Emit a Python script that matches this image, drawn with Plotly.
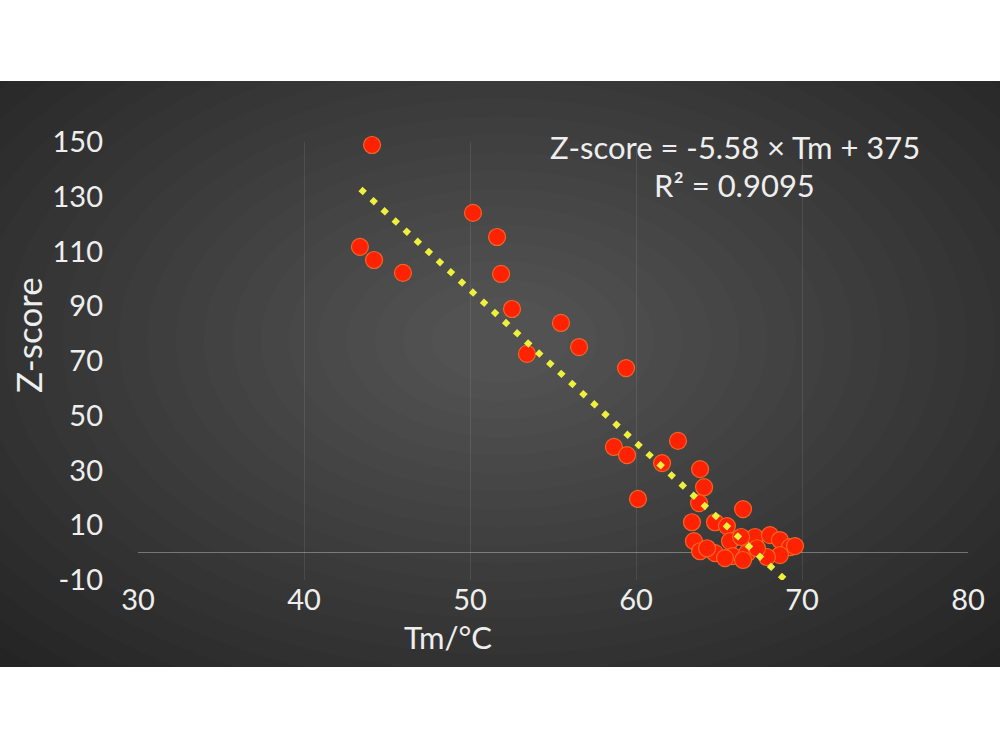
import plotly.graph_objects as go

# ---- data ----
tm = [44.10, 43.37, 44.22, 45.96, 50.18, 51.63, 51.87, 52.53, 53.43, 55.48,
      56.57, 59.40, 58.67, 59.46, 60.12, 61.57, 62.53, 63.86, 64.10, 63.80,
      66.45, 63.37, 64.76, 65.48, 63.49, 63.86, 64.76, 65.66, 65.84, 66.69,
      67.17, 68.07, 68.67, 69.28, 68.67, 67.89, 67.29, 66.45, 65.36, 64.28,
      66.33, 69.58]
zscore = [148.9, 111.7, 106.9, 102.2, 124.1, 115.3, 101.8, 89.0, 72.6, 83.9,
          75.1, 67.4, 38.6, 35.6, 19.6, 32.7, 40.8, 30.5, 23.9, 18.1,
          15.9, 11.1, 11.1, 9.7, 4.2, 0.5, -0.2, 4.2, -1.3, -0.2,
          5.7, 6.4, 4.6, 2.0, -0.9, -1.6, 1.6, -2.7, -2.0, 1.6,
          5.7, 2.4]

slope, intercept = -5.58, 375
fit_x = [43.4, 69.0]
fit_y = [slope * v + intercept for v in fit_x]

x_ticks = [30, 40, 50, 60, 70, 80]
x_tick_labels = ["30", "40", "50", "60", "70", "80"]
y_ticks = [-10, 10, 30, 50, 70, 90, 110, 130, 150]
y_tick_labels = ["-10", "10", "30", "50", "70", "90", "110", "130", "150"]

eq_text = "Z-score = -5.58 × Tm + 375"
r2_text = "R² = 0.9095"

FONT = "Lato"
TXT = "#eeeeee"

fig = go.Figure()
fig.add_trace(go.Scatter(
    x=tm, y=zscore, mode="markers", cliponaxis=False,
    marker=dict(size=17, color="#ff2200",
                line=dict(color="rgba(255,110,40,0.85)", width=1.2)),
    showlegend=False, hoverinfo="x+y"))
fig.add_trace(go.Scatter(
    x=fit_x, y=fit_y, mode="lines", cliponaxis=False,
    line=dict(color="#eef03c", width=6, dash="6px,9px"),
    showlegend=False, hoverinfo="skip"))

# plot area geometry (pixels)
L, R, T, B = 138, 32, 142, 170
PW, PH = 1000 - L - R, 750 - T - B


def px(xp):
    return (xp - L) / PW


def py(yp):
    return (750 - B - yp) / PH


shapes = [dict(type="rect", xref="paper", yref="paper", layer="below",
               x0=px(0), x1=px(1000), y0=py(667), y1=py(81),
               fillcolor="#1e1e1e", line=dict(width=0))]
# smooth radial lightening toward the centre
cx, cy = 500, 340
N = 26
for i in range(N):
    f = 1 - i / N
    rx = 40 + 740 * f
    ry = 25 + 470 * f
    shapes.append(dict(type="circle", xref="paper", yref="paper", layer="below",
                       x0=px(cx - rx), x1=px(cx + rx),
                       y0=py(cy + ry), y1=py(cy - ry),
                       fillcolor="rgba(255,255,255,0.0105)", line=dict(width=0)))
# mask outside the panel
shapes.append(dict(type="rect", xref="paper", yref="paper", layer="below",
                   x0=px(-300), x1=px(1300), y0=py(81), y1=py(-300),
                   fillcolor="white", line=dict(width=0)))
shapes.append(dict(type="rect", xref="paper", yref="paper", layer="below",
                   x0=px(-300), x1=px(1300), y0=py(1050), y1=py(667),
                   fillcolor="white", line=dict(width=0)))
shapes.append(dict(type="rect", xref="paper", yref="paper", layer="below",
                   x0=px(-300), x1=px(0), y0=py(1050), y1=py(-300),
                   fillcolor="white", line=dict(width=0)))
shapes.append(dict(type="rect", xref="paper", yref="paper", layer="below",
                   x0=px(1000), x1=px(1300), y0=py(1050), y1=py(-300),
                   fillcolor="white", line=dict(width=0)))

fig.update_layout(
    width=1000, height=750,
    margin=dict(l=L, r=R, t=T, b=B),
    paper_bgcolor="white",
    plot_bgcolor="rgba(0,0,0,0)",
    shapes=shapes,
    font=dict(family=FONT, color=TXT),
    xaxis=dict(range=[30, 80], tickvals=x_ticks, ticktext=x_tick_labels,
               showgrid=True, gridcolor="rgba(255,255,255,0.09)", gridwidth=1,
               zeroline=False, showline=False, ticks="",
               tickfont=dict(family=FONT, size=29, color=TXT),
               ticklabelstandoff=0),
    yaxis=dict(range=[-10, 150], tickvals=y_ticks, ticktext=y_tick_labels,
               showgrid=False,
               zeroline=True, zerolinecolor="rgba(200,200,200,0.45)",
               zerolinewidth=1.2, showline=False, ticks="",
               tickfont=dict(family=FONT, size=29, color=TXT),
               ticklabelstandoff=34),
    annotations=[
        dict(x=65.96, y=148.2, xref="x", yref="y", text=eq_text,
             xanchor="center", yanchor="middle",
             showarrow=False, font=dict(family=FONT, size=31, color=TXT)),
        dict(x=65.96, y=134.3, xref="x", yref="y", text=r2_text,
             xanchor="center", yanchor="middle",
             showarrow=False, font=dict(family=FONT, size=31, color=TXT)),
        dict(x=px(28), y=py(335), xref="paper", yref="paper", text="Z-score",
             xanchor="center", yanchor="middle",
             textangle=-90, showarrow=False,
             font=dict(family=FONT, size=35, color=TXT)),
        dict(x=px(448), y=py(637), xref="paper", yref="paper", text="Tm/°C",
             xanchor="center", yanchor="middle",
             showarrow=False, font=dict(family=FONT, size=31, color=TXT)),
    ],
)

fig.write_html("out.html")
